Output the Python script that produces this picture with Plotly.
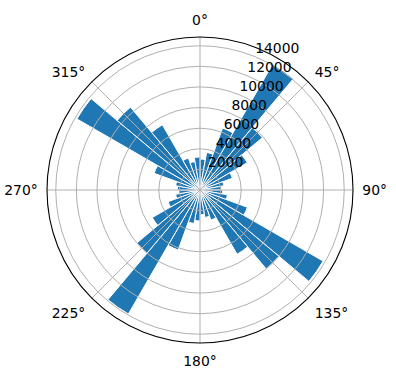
import plotly.graph_objects as go

directions = [5, 15, 25, 35, 45, 55, 65, 75, 85, 95, 105, 115,
              125, 135, 145, 155, 165, 175, 185, 195, 205, 215, 225, 235,
              245, 255, 265, 275, 285, 295, 305, 315, 325, 335, 345, 355]
counts = [3000, 3700, 6400, 14100, 7900, 5300, 3350, 2350, 2100, 2200, 2700, 4900,
          13800, 10000, 7200, 3100, 2700, 2400, 3000, 3300, 6200, 13900, 8000, 5350,
          3300, 2400, 2000, 2200, 2400, 4750, 13800, 10500, 7300, 3300, 2800, 3200]
bin_width = 10
radial_ticks = [2000, 4000, 6000, 8000, 10000, 12000, 14000]
radial_labels = ["2000", "4000", "6000", "8000", "10000", "12000", "14000"]
angle_ticks = [0, 45, 90, 135, 180, 225, 270, 315]
angle_labels = ["0°", "45°", "90°", "135°", "180°", "225°", "270°", "315°"]
label_theta = 22.5
rmax = 14850

fig = go.Figure()
fig.add_trace(go.Barpolar(
    r=counts, theta=directions, width=[bin_width] * len(counts),
    marker=dict(color="#1f77b4", line=dict(color="white", width=1)),
    subplot="polar",
))
fig.add_trace(go.Scatterpolar(
    r=radial_ticks, theta=[label_theta] * len(radial_ticks),
    mode="text", text=radial_labels, textposition="top right",
    textfont=dict(family="DejaVu Sans", size=13.9, color="black"),
    subplot="polar2", cliponaxis=False,
))

common_ang = dict(rotation=90, direction="clockwise")
fig.update_layout(
    width=396, height=380,
    margin=dict(l=47, r=43, t=37, b=37),
    paper_bgcolor="white",
    showlegend=False,
    font=dict(family="DejaVu Sans", size=13.9, color="black"),
    polar=dict(
        domain=dict(x=[0, 1], y=[0, 1]),
        bgcolor="white",
        angularaxis=dict(**common_ang, showgrid=False, showline=False,
                         showticklabels=False, ticks=""),
        radialaxis=dict(range=[0, rmax], showgrid=False, showline=False,
                        showticklabels=False, ticks=""),
    ),
    polar2=dict(
        domain=dict(x=[0, 1], y=[0, 1]),
        bgcolor="rgba(0,0,0,0)",
        angularaxis=dict(
            **common_ang,
            tickmode="array", tickvals=angle_ticks, ticktext=angle_labels,
            showgrid=True, gridcolor="#b0b0b0", gridwidth=1,
            showline=True, linecolor="black", linewidth=1.1,
            ticks="outside", ticklen=6, tickcolor="rgba(0,0,0,0)",
        ),
        radialaxis=dict(
            range=[0, rmax], tickmode="array", tickvals=radial_ticks,
            showticklabels=False,
            angle=67.5, showgrid=True, gridcolor="#b0b0b0", gridwidth=1,
            showline=False, ticks="",
        ),
    ),
)

fig.write_html("out.html")
